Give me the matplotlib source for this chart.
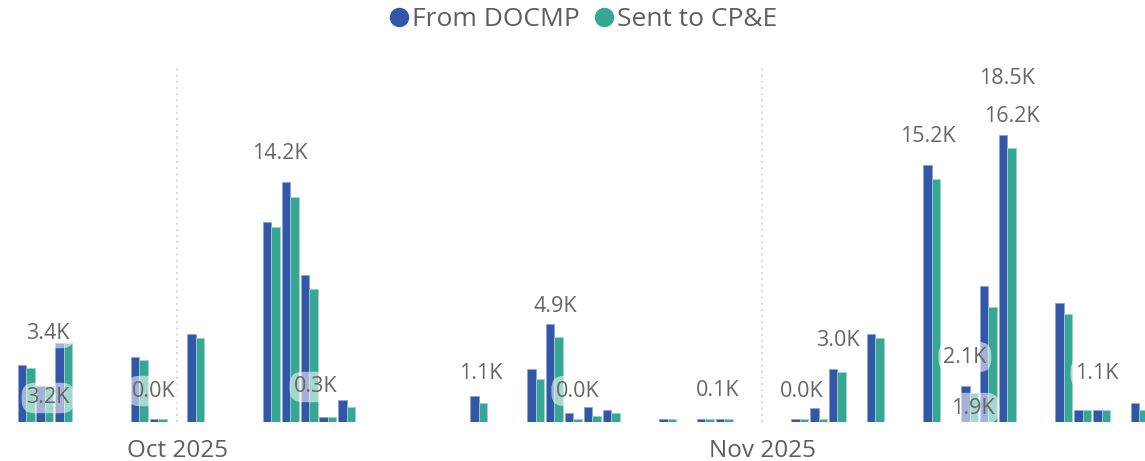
import matplotlib
matplotlib.use("Agg")
import matplotlib.pyplot as plt
import matplotlib.dates as mdates
from matplotlib.lines import Line2D
import pandas as pd

plt.rcParams["font.family"] = ["Open Sans", "DejaVu Sans"]

# dias com movimento e volumes (milhares)
dates = ["2025-09-23", "2025-09-24", "2025-09-25", "2025-09-29", "2025-09-30",
         "2025-10-02", "2025-10-06", "2025-10-07", "2025-10-08", "2025-10-09",
         "2025-10-10", "2025-10-17", "2025-10-20", "2025-10-21", "2025-10-22",
         "2025-10-23", "2025-10-24", "2025-10-27", "2025-10-29", "2025-10-30",
         "2025-11-03", "2025-11-04", "2025-11-05", "2025-11-07", "2025-11-10",
         "2025-11-12", "2025-11-13", "2025-11-14", "2025-11-17", "2025-11-18",
         "2025-11-19", "2025-11-21"]
from_docmp = [3.7, 2.3, 5.1, 4.2, 0.2,
              5.7, 12.9, 15.5, 9.5, 0.3,
              1.4, 1.7, 3.4, 6.3, 0.6,
              1.0, 0.8, 0.2, 0.2, 0.2,
              0.2, 0.9, 3.4, 5.7, 16.6,
              2.3, 8.8, 18.5, 7.7, 0.8,
              0.8, 1.2]
sent_cpe = [3.5, 2.3, 5.1, 4.0, 0.2,
            5.4, 12.6, 14.5, 8.6, 0.3,
            1.0, 1.2, 2.8, 5.5, 0.2,
            0.4, 0.6, 0.2, 0.2, 0.2,
            0.2, 0.2, 3.2, 5.4, 15.7,
            1.9, 7.4, 17.7, 7.0, 0.8,
            0.8, 0.8]

# rótulos de dados como aparecem no visual
label_dates = ["2025-09-24 04:00", "2025-09-24 04:00", "2025-09-29 18:00",
               "2025-10-06 11:00", "2025-10-08 09:00", "2025-10-17 02:30",
               "2025-10-21 00:45", "2025-10-22 06:00", "2025-10-29 16:00",
               "2025-11-03 03:00", "2025-11-05 00:45", "2025-11-09 19:00",
               "2025-11-13 23:00", "2025-11-14 06:00", "2025-11-11 18:00",
               "2025-11-12 04:00", "2025-11-18 18:00"]
label_texts = ["3.4K", "3.2K", "0.0K", "14.2K", "0.3K", "1.1K", "4.9K", "0.0K",
               "0.1K", "0.0K", "3.0K", "15.2K", "18.5K", "16.2K", "2.1K", "1.9K",
               "1.1K"]
label_y = [5.74, 1.55, 2.0, 17.35, 2.26, 3.16, 7.42, 2.0,
           2.06, 2.0, 5.23, 18.45, 22.13, 19.68, 4.19, 0.9, 3.16]

month_ticks = ["2025-10-01", "2025-11-01"]
month_labels = ["Oct 2025", "Nov 2025"]

cor_azul = "#3257A8"
cor_verde = "#37A794"

x = mdates.date2num(pd.to_datetime(dates))
w = 0.45

fig = plt.figure(figsize=(11.45, 4.61), dpi=100)
ax = fig.add_axes([0, 39 / 461, 1, (422 - 68) / 461])

ax.bar(x - w / 2, from_docmp, width=w, color=cor_azul,
       edgecolor="#8FA3D3", linewidth=0.6, zorder=3)
ax.bar(x + w / 2, sent_cpe, width=w, color=cor_verde,
       edgecolor="#9AD6C8", linewidth=0.6, zorder=3)

xt = mdates.date2num(pd.to_datetime(month_ticks))
for v in xt:
    ax.axvline(v, ymin=0, ymax=1, color="#D0D0D0", linestyle=(0, (1.2, 2.5)),
               linewidth=1.2, zorder=1)

xl = mdates.date2num(pd.to_datetime(label_dates))
for xx, yy, txt in zip(xl, label_y, label_texts):
    ax.text(xx, yy, txt, ha="center", va="center", fontsize=15.5, color="#666666",
            zorder=5,
            bbox=dict(boxstyle="round,pad=0.22,rounding_size=0.6", fc="white",
                      ec="none", alpha=0.55))

oct1 = xt[0]
ax.set_xlim(oct1 - 177 / 18.87, oct1 + (1145 - 177) / 18.87)
ax.set_ylim(0, (422 - 68) / 15.5)
ax.set_xticks(xt)
ax.set_xticklabels(month_labels, fontsize=17.5, color="#605E5C")
ax.tick_params(axis="x", length=0, pad=12)
ax.set_yticks([])
for s in ax.spines.values():
    s.set_visible(False)

handles = [Line2D([], [], marker="o", linestyle="none", markersize=13,
                  markerfacecolor=c, markeredgecolor=c) for c in (cor_azul, cor_verde)]
fig.legend(handles, ["From DOCMP", "Sent to CP&E"], loc="center",
           bbox_to_anchor=(582 / 1145, 1 - 20 / 461), ncol=2, frameon=False,
           fontsize=19, handletextpad=0.05, columnspacing=0.45,
           handlelength=0.9, labelcolor="#605E5C")

fig.savefig("out.png", dpi=100)
